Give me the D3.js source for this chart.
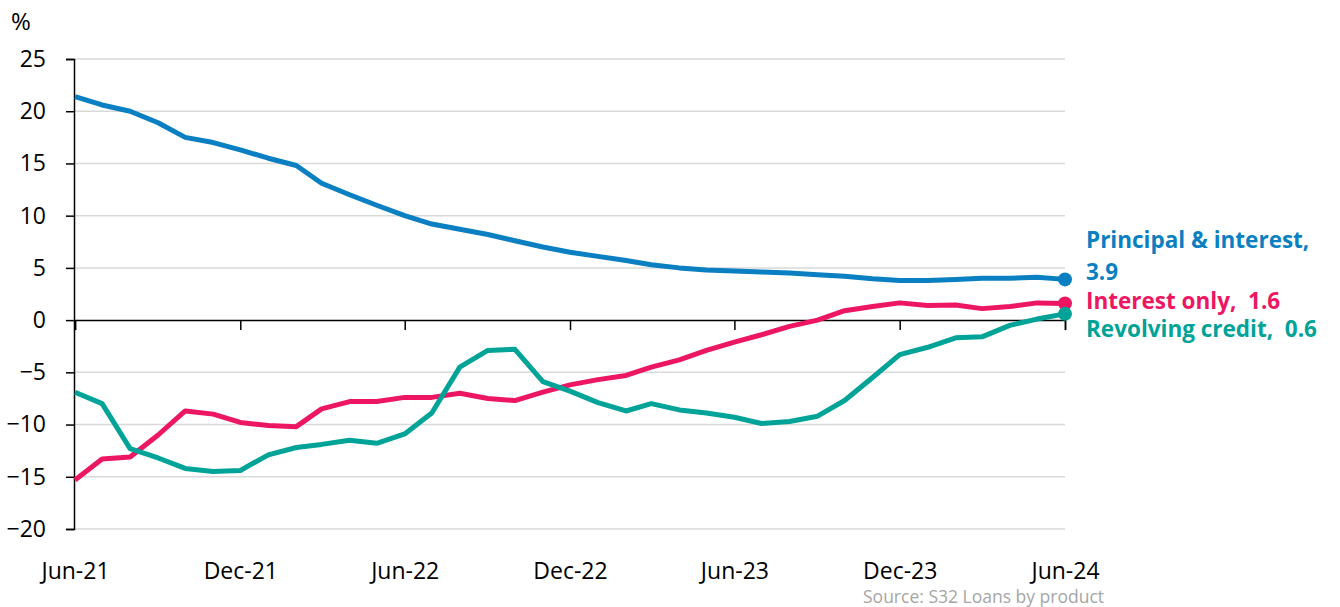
<!DOCTYPE html>
<html>
<head>
<meta charset="utf-8">
<script src="https://cdn.jsdelivr.net/npm/d3@7"></script>
<style>
  body { margin: 0; background: #fff; }
  svg { display: block; font-family: "Open Sans", "Noto Sans", sans-serif; }
</style>
</head>
<body>
<div id="chart"></div>
<script>
// monthly, Jun-21 .. Jun-24
const startMonth = new Date(2021, 5, 1)
const endMonth = new Date(2024, 5, 1)
const months = d3.timeMonth.range(startMonth, d3.timeMonth.offset(endMonth, 1))

const principalInterest = [21.4, 20.6, 20.0, 18.9, 17.5, 17.0, 16.3, 15.5, 14.8, 13.1,
  12.0, 11.0, 10.0, 9.2, 8.7, 8.2, 7.6, 7.0, 6.5, 6.1, 5.7, 5.3, 5.0, 4.8, 4.7,
  4.6, 4.5, 4.35, 4.2, 3.95, 3.8, 3.8, 3.9, 4.0, 4.0, 4.1, 3.9]
const interestOnly = [-15.3, -13.3, -13.1, -11.0, -8.7, -9.0, -9.8, -10.1, -10.2, -8.5,
  -7.8, -7.8, -7.4, -7.4, -7.0, -7.5, -7.7, -6.9, -6.2, -5.7, -5.3, -4.5, -3.8, -2.9,
  -2.1, -1.4, -0.6, 0.0, 0.9, 1.3, 1.65, 1.4, 1.45, 1.1, 1.3, 1.65, 1.6]
const revolvingCredit = [-6.9, -8.0, -12.3, -13.2, -14.2, -14.5, -14.4, -12.9, -12.2, -11.9,
  -11.5, -11.8, -10.9, -8.9, -4.5, -2.9, -2.8, -5.9, -6.8, -7.9, -8.7, -8.0, -8.6, -8.9,
  -9.3, -9.9, -9.7, -9.2, -7.7, -5.5, -3.3, -2.6, -1.7, -1.6, -0.5, 0.1, 0.6]

const seriesNames = ['Principal & interest', 'Interest only', 'Revolving credit']
const seriesColors = ['#0a7fc1', '#ec1662', '#00a397']
const yTicks = [25, 20, 15, 10, 5, 0, -5, -10, -15, -20]
const xTickMonths = d3.timeMonth.range(startMonth, d3.timeMonth.offset(endMonth, 1), 6)

const width = 1340
const height = 607
const margin = { top: 59, right: 275, bottom: 78, left: 75 }

const svg = d3.select('#chart')
  .append('svg')
  .attr('width', width)
  .attr('height', height)

const x = d3.scaleTime()
  .domain([startMonth, endMonth])
  .range([margin.left, width - margin.right])

const y = d3.scaleLinear()
  .domain([-20, 25])
  .range([height - margin.bottom, margin.top])

// gridlines
svg.append('g')
  .selectAll('line')
  .data(yTicks.filter(d => d !== 0))
  .enter()
  .append('line')
  .attr('x1', margin.left)
  .attr('x2', width - margin.right)
  .attr('y1', d => y(d))
  .attr('y2', d => y(d))
  .attr('stroke', '#d9d9d9')
  .attr('stroke-width', 1.5)

// y axis
const yAxis = svg.append('g')
  .attr('transform', `translate(${margin.left - 1},0)`)
  .call(d3.axisLeft(y).tickValues(yTicks).tickSize(8).tickPadding(20))
yAxis.select('.domain').attr('stroke', '#000').attr('stroke-width', 1.5)
yAxis.selectAll('.tick line').attr('stroke', '#000').attr('stroke-width', 1.5)
yAxis.selectAll('text')
  .attr('font-size', 23)
  .attr('fill', '#000')
  .attr('font-family', '"Open Sans", sans-serif')

// x axis on zero line
const xAxis = svg.append('g')
  .attr('transform', `translate(0,${y(0)})`)
  .call(d3.axisBottom(x).tickValues(xTickMonths).tickSize(10).tickFormat(d3.timeFormat('%b-%y')))
xAxis.select('.domain').attr('stroke', '#000').attr('stroke-width', 1.5)
xAxis.selectAll('.tick line').attr('stroke', '#000').attr('stroke-width', 1.5)
xAxis.selectAll('text')
  .attr('y', height - margin.bottom - y(0) + 34)
  .attr('font-size', 23)
  .attr('fill', '#000')
  .attr('font-family', '"Open Sans", sans-serif')

svg.append('text')
  .attr('x', 11)
  .attr('y', 30)
  .attr('font-size', 24)
  .text('%')

const allSeries = [principalInterest, interestOnly, revolvingCredit]

const line = d3.line()
  .x((d, i) => x(months[i]))
  .y(d => y(d))

svg.append('g')
  .selectAll('path')
  .data(allSeries)
  .enter()
  .append('path')
  .attr('d', d => line(d))
  .attr('fill', 'none')
  .attr('stroke', (d, i) => seriesColors[i])
  .attr('stroke-width', 5)
  .attr('stroke-linejoin', 'round')

svg.append('g')
  .selectAll('circle')
  .data(allSeries)
  .enter()
  .append('circle')
  .attr('cx', x(endMonth))
  .attr('cy', d => y(d[d.length - 1]))
  .attr('r', 7)
  .attr('fill', (d, i) => seriesColors[i])

// end labels
const labelX = x(endMonth) + 21
const labelLines = [
  { text: seriesNames[0] + ',', y: 248, c: 0 },
  { text: d3.format('.1f')(principalInterest[principalInterest.length - 1]), y: 280, c: 0 },
  { text: seriesNames[1] + ',\u00a0\u00a0' + d3.format('.1f')(interestOnly[interestOnly.length - 1]), y: 309, c: 1 },
  { text: seriesNames[2] + ',\u00a0\u00a0' + d3.format('.1f')(revolvingCredit[revolvingCredit.length - 1]), y: 337, c: 2 }
]
svg.append('g')
  .selectAll('text')
  .data(labelLines)
  .enter()
  .append('text')
  .attr('x', labelX)
  .attr('y', d => d.y)
  .attr('font-size', 22.5)
  .attr('font-weight', 'bold')
  .attr('fill', d => seriesColors[d.c])
  .text(d => d.text)

svg.append('text')
  .attr('x', 1104)
  .attr('y', 603)
  .attr('text-anchor', 'end')
  .attr('font-size', 17.5)
  .attr('fill', '#a6a6a6')
  .text('Source: S32 Loans by product')
</script>
</body>
</html>
